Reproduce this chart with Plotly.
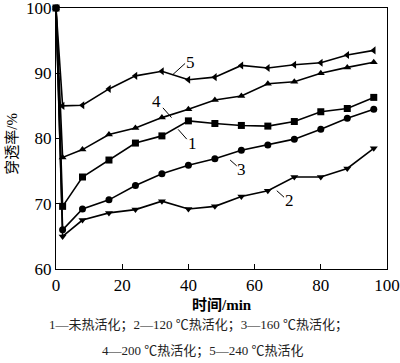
import plotly.graph_objects as go

# time (min)
t = [0, 2, 8, 16, 24, 32, 40, 48, 56, 64, 72, 80, 88, 96]

# breakthrough (%) for each curve
s1 = [100, 69.6, 74.1, 76.7, 79.3, 80.4, 82.7, 82.3, 82.0, 81.9, 82.6, 84.1, 84.6, 86.3]
s2 = [100, 65.0, 67.5, 68.6, 69.1, 70.4, 69.2, 69.6, 71.1, 72.0, 74.1, 74.1, 75.4, 78.5]
s3 = [100, 66.0, 69.2, 70.6, 72.8, 74.6, 75.9, 76.9, 78.2, 79.0, 79.9, 81.4, 83.1, 84.5]
s4 = [100, 77.1, 78.3, 80.6, 81.6, 83.2, 84.5, 85.9, 86.5, 88.4, 88.7, 90.0, 90.9, 91.7]
s5 = [100, 85.0, 85.1, 87.6, 89.6, 90.3, 89.0, 89.4, 91.2, 90.8, 91.3, 91.6, 92.8, 93.5]

series_names = ["1", "2", "3", "4", "5"]
series_vals = [s1, s2, s3, s4, s5]
symbols = ["square", "triangle-down", "circle", "triangle-up", "triangle-left"]

xticks = [0, 20, 40, 60, 80, 100]
yticks = [60, 70, 80, 90, 100]

# curve labels: (label, text x, text y, leader start x, y, leader end x, y)
labels = [
    ("5", 40.5, 91.7, 35.3, 89.8, 39.0, 91.5),
    ("4", 30.4, 85.7, 32.3, 84.7, 34.9, 83.2),
    ("1", 41.3, 79.2, 36.9, 81.4, 39.5, 79.9),
    ("3", 56.1, 75.3, 52.6, 76.7, 54.6, 75.8),
    ("2", 70.5, 70.5, 66.7, 72.0, 68.9, 71.0),
]

FONT = "Liberation Serif, Times New Roman, Noto Sans CJK SC, serif"

fig = go.Figure()
for name, vals, sym in zip(series_names, series_vals, symbols):
    fig.add_trace(go.Scatter(
        x=t, y=vals, mode="lines+markers", name=name,
        line=dict(color="black", width=1.6),
        marker=dict(symbol=sym, size=7, color="black"),
        showlegend=False, cliponaxis=False,
    ))

for lab, tx, ty, x0, y0, x1, y1 in labels:
    fig.add_annotation(x=tx, y=ty, text=lab, showarrow=False,
                       xanchor="center", yanchor="middle",
                       font=dict(family=FONT, size=17, color="black"))
    fig.add_shape(type="line", x0=x0, y0=y0, x1=x1, y1=y1,
                  line=dict(color="black", width=1))

fig.add_annotation(xref="paper", yref="paper", x=0.5, y=-0.138,
                   xanchor="center", yanchor="middle",
                   text="<b>时间/min</b>", showarrow=False,
                   font=dict(family=FONT, size=15, color="black"))
fig.add_annotation(xref="paper", yref="paper", x=-0.133, y=0.48,
                   xanchor="center", yanchor="middle",
                   text="穿透率/%", textangle=-90, showarrow=False,
                   font=dict(family=FONT, size=15, color="black"))
fig.add_annotation(xref="paper", yref="paper", x=0.43, y=-0.215,
                   xanchor="center", yanchor="middle",
                   text="1—未热活化；2—120 ℃热活化；3—160 ℃热活化；",
                   showarrow=False,
                   font=dict(family=FONT, size=13, color="#222"))
fig.add_annotation(xref="paper", yref="paper", x=0.445, y=-0.314,
                   xanchor="center", yanchor="middle",
                   text="4—200 ℃热活化；5—240 ℃热活化",
                   showarrow=False,
                   font=dict(family=FONT, size=13, color="#222"))

fig.update_layout(
    width=400, height=363,
    margin=dict(l=56, r=13, t=8, b=94, autoexpand=False),
    plot_bgcolor="white", paper_bgcolor="white",
    font=dict(family=FONT, size=17, color="black"),
    hovermode=False,
)
fig.update_xaxes(range=[0, 100], tickvals=xticks, showgrid=False, zeroline=False,
                 showline=True, linecolor="black", linewidth=1.2, mirror=True,
                 ticks="inside", ticklen=5, tickcolor="black",
                 ticklabeloverflow="allow", automargin=False,
                 tickfont=dict(family=FONT, size=17))
fig.update_yaxes(range=[60, 100], tickvals=yticks, showgrid=False, zeroline=False,
                 showline=True, linecolor="black", linewidth=1.2, mirror=True,
                 ticks="inside", ticklen=5, tickcolor="black",
                 ticklabeloverflow="allow", automargin=False,
                 tickfont=dict(family=FONT, size=17))

fig.write_html("out.html",
               config={"displayModeBar": False, "staticPlot": True},
               post_script="document.body.style.margin='0';document.body.style.overflow='hidden';")
